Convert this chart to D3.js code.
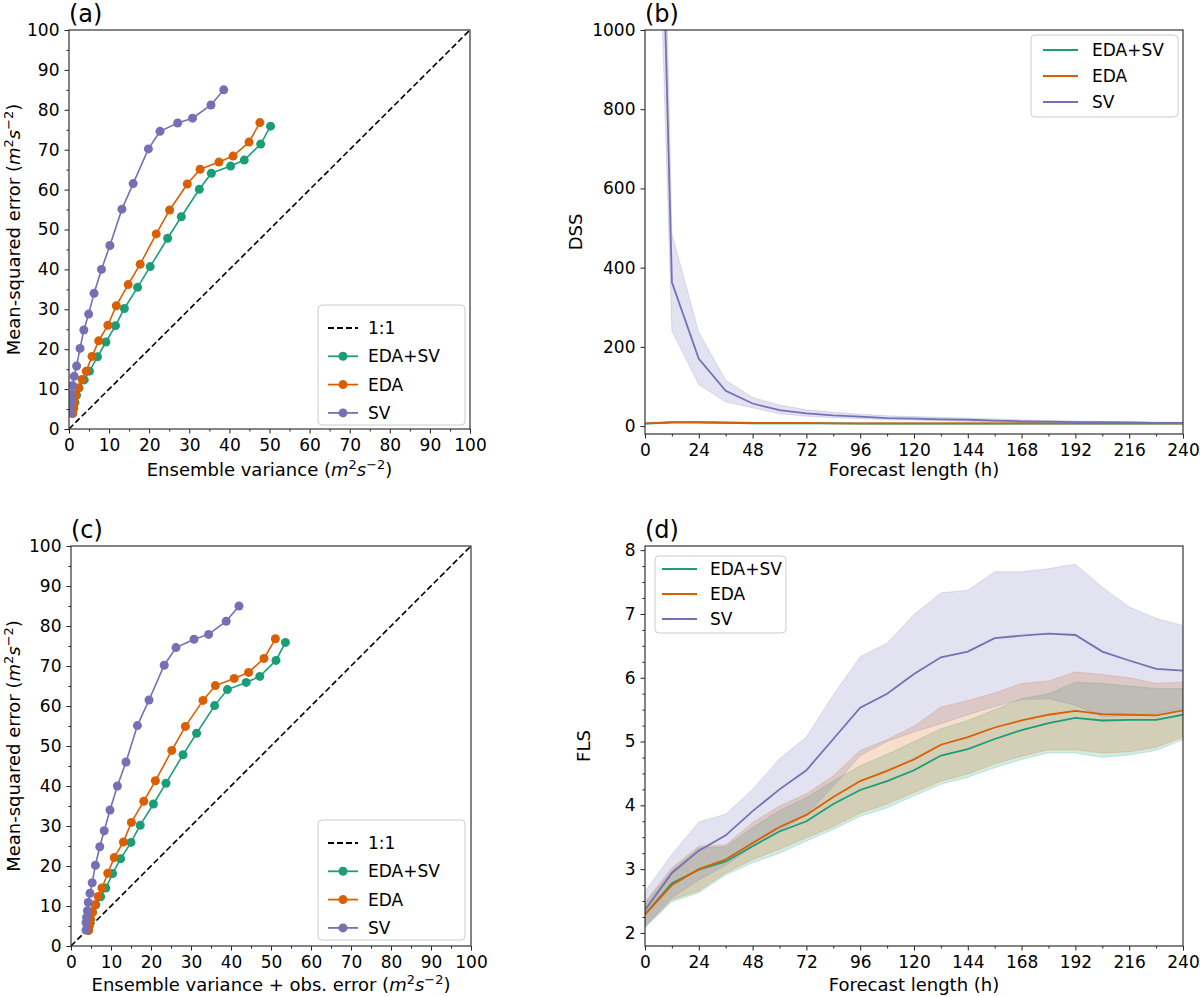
<html>
<head>
<meta charset="utf-8">
<script src="https://d3js.org/d3.v7.min.js"></script>
<style>
	body { margin: 0; background: #fff; }
	text { font-family: "DejaVu Sans", sans-serif; fill: #000; }
</style>
</head>
<body>
<svg id="fig" width="1200" height="997"></svg>
<script>

// forecast lead times (h)
var lead = [0, 12, 24, 36, 48, 60, 72, 84, 96, 108, 120, 132, 144, 156, 168, 180, 192, 204, 216, 228, 240];

// (a) / (c) mean-squared error against spread
var mseEDASV = [3.9, 5.2, 6.6, 8.5, 10.3, 12.3, 14.5, 18.1, 21.8, 25.9, 30.2, 35.5, 40.7, 47.8, 53.2, 60.1, 64.1, 65.9, 67.4, 71.4, 75.9];
var varEDASV = [0.9, 1.2, 1.5, 1.9, 2.5, 3.8, 5.1, 7.1, 9.2, 11.6, 13.8, 17.1, 20.25, 24.6, 28.0, 32.5, 35.5, 40.3, 43.7, 47.8, 50.25];
var obsEDASV = [4.3, 4.6, 4.9, 5.3, 6.2, 7.4, 8.7, 10.4, 12.4, 15.0, 17.3, 20.6, 23.75, 28.0, 31.4, 35.9, 39.1, 43.8, 47.2, 51.25, 53.6];

var mseEDA = [3.9, 5.2, 6.6, 8.4, 10.3, 12.4, 14.5, 18.2, 22.1, 26.0, 30.9, 36.2, 41.3, 48.9, 54.9, 61.4, 65.1, 66.9, 68.4, 71.9, 76.8];
var varEDA = [0.9, 1.1, 1.35, 1.7, 2.4, 3.25, 4.3, 5.75, 7.4, 9.7, 11.8, 14.75, 17.75, 21.75, 25.1, 29.5, 32.7, 37.4, 40.9, 44.9, 47.6];
var obsEDA = [4.4, 4.6, 4.9, 5.4, 6.0, 6.8, 7.75, 9.2, 10.8, 13.1, 15.1, 18.2, 21.1, 25.2, 28.6, 33.0, 36.1, 40.8, 44.4, 48.25, 51.1];

var mseSV = [4.0, 5.8, 7.2, 8.8, 10.9, 13.2, 15.8, 20.2, 24.8, 28.8, 34.0, 40.0, 46.0, 55.1, 61.5, 70.2, 74.6, 76.7, 77.9, 81.2, 85.0];
var varSV = [0.35, 0.35, 0.5, 0.7, 0.9, 1.3, 1.9, 2.75, 3.7, 4.9, 6.25, 8.1, 10.2, 13.2, 16.0, 19.8, 22.7, 27.1, 30.8, 35.4, 38.6];
var obsSV = [3.75, 3.75, 3.9, 4.1, 4.3, 4.75, 5.3, 6.1, 7.2, 8.3, 9.75, 11.6, 13.75, 16.6, 19.5, 23.3, 26.25, 30.75, 34.4, 38.8, 42.0];

// (b) DSS
var dssEDASV = [6, 9, 9, 8, 7, 7, 7, 7, 6, 6, 6, 6, 6, 6, 6, 6, 6, 6, 6, 6, 6];
var dssEDASVlo = [5, 8, 8, 7, 6, 6, 6, 6, 5, 5, 5, 5, 5, 5, 5, 5, 5, 5, 5, 5, 5];
var dssEDASVhi = [7, 10, 10, 9, 8, 8, 8, 8, 7, 7, 7, 7, 7, 7, 7, 7, 7, 7, 7, 7, 7];
var dssEDA = [7, 10, 10, 9, 8, 8, 8, 7, 7, 7, 7, 7, 7, 7, 7, 7, 7, 7, 7, 7, 7];
var dssEDAlo = [6, 9, 9, 8, 7, 7, 7, 6, 6, 6, 6, 6, 6, 6, 6, 6, 6, 6, 6, 6, 6];
var dssEDAhi = [8, 11, 11, 10, 9, 9, 9, 8, 8, 8, 8, 8, 8, 8, 8, 8, 8, 8, 8, 8, 8];
var dssSV = [3000, 363, 170, 89, 57, 40, 32, 27, 24, 20, 19, 17, 16, 14, 12, 11, 10, 10, 9, 8, 8];
var dssSVlo = [2400, 240, 105, 61, 46, 31, 25, 21, 19, 16, 15, 13, 12, 11, 9, 8, 8, 7, 7, 6, 6];
var dssSVhi = [3600, 485, 236, 116, 72, 53, 41, 35, 30, 26, 24, 22, 20, 18, 16, 14, 13, 12, 11, 10, 10];

// (d) FLS
var flsEDASV = [2.29, 2.78, 2.99, 3.12, 3.36, 3.59, 3.75, 4.02, 4.24, 4.38, 4.55, 4.78, 4.88, 5.04, 5.18, 5.29, 5.37, 5.33, 5.34, 5.34, 5.42];
var flsEDASVlo = [2.08, 2.49, 2.63, 2.91, 3.1, 3.25, 3.44, 3.62, 3.83, 3.96, 4.15, 4.33, 4.44, 4.59, 4.72, 4.82, 4.82, 4.75, 4.79, 4.86, 5.03];
var flsEDASVhi = [2.45, 2.98, 3.33, 3.35, 3.65, 3.92, 4.12, 4.38, 4.62, 4.8, 5.0, 5.2, 5.33, 5.5, 5.67, 5.75, 5.93, 5.91, 5.87, 5.83, 5.83];
var flsEDA = [2.29, 2.75, 3.0, 3.15, 3.41, 3.66, 3.85, 4.13, 4.38, 4.54, 4.72, 4.95, 5.07, 5.22, 5.33, 5.42, 5.48, 5.43, 5.42, 5.41, 5.49];
var flsEDAlo = [2.1, 2.52, 2.66, 2.94, 3.15, 3.31, 3.49, 3.67, 3.88, 4.02, 4.2, 4.38, 4.49, 4.65, 4.77, 4.87, 4.87, 4.82, 4.84, 4.91, 5.07];
var flsEDAhi = [2.49, 3.02, 3.36, 3.38, 3.73, 3.99, 4.18, 4.46, 4.86, 5.03, 5.24, 5.54, 5.64, 5.76, 5.91, 5.95, 6.09, 6.05, 6.0, 5.91, 5.93];
var flsSV = [2.36, 2.94, 3.29, 3.53, 3.91, 4.25, 4.55, 5.04, 5.53, 5.75, 6.06, 6.32, 6.41, 6.62, 6.66, 6.69, 6.67, 6.41, 6.27, 6.14, 6.11];
var flsSVlo = [2.1, 2.55, 2.83, 3.06, 3.35, 3.6, 3.85, 4.3, 4.78, 5.0, 5.15, 5.28, 5.42, 5.55, 5.66, 5.67, 5.57, 5.39, 5.41, 5.44, 5.52];
var flsSVhi = [2.65, 3.23, 3.74, 3.86, 4.25, 4.73, 5.07, 5.73, 6.33, 6.54, 6.99, 7.33, 7.37, 7.66, 7.66, 7.71, 7.78, 7.42, 7.11, 6.93, 6.82];

// tick values
var pctTicks = d3.range(0, 101, 10);
var pctMinor = d3.range(5, 100, 10);
var leadTicks = d3.range(0, 241, 24);
var leadMinor = d3.range(12, 240, 24);
var dssTicks = [0, 200, 400, 600, 800, 1000];
var flsTicks = [2, 3, 4, 5, 6, 7, 8];
var flsMinor = [2.25, 2.5, 2.75, 3.25, 3.5, 3.75, 4.25, 4.5, 4.75, 5.25, 5.5, 5.75, 6.25, 6.5, 6.75, 7.25, 7.5, 7.75];

var cGreen = "#1b9e77", cOrange = "#d95f02", cPurple = "#7570b3";
var fs = 17;      // tick + legend text
var fsLab = 18;   // axis titles
var svg = d3.select("#fig");
var clipCount = 0;

function panel(box, xDom, yDom, xT, xM, yT, yM, tag) {
	var x = d3.scaleLinear().domain(xDom).range([box.l, box.r]);
	var y = d3.scaleLinear().domain(yDom).range([box.b, box.t]);
	var id = "clip" + (clipCount++);
	svg.append("clipPath").attr("id", id)
		.append("rect")
		.attr("x", box.l).attr("y", box.t)
		.attr("width", box.r - box.l).attr("height", box.b - box.t);
	var data = svg.append("g").attr("clip-path", "url(#" + id + ")");
	var ax = svg.append("g");
	// minor ticks
	if (xM) ax.append("g").attr("transform", "translate(0," + box.b + ")")
		.call(d3.axisBottom(x).tickValues(xM).tickSize(2.5).tickFormat(""));
	if (yM) ax.append("g").attr("transform", "translate(" + box.l + ",0)")
		.call(d3.axisLeft(y).tickValues(yM).tickSize(2.5).tickFormat(""));
	// major ticks
	ax.append("g").attr("transform", "translate(0," + box.b + ")")
		.call(d3.axisBottom(x).tickValues(xT).tickSize(4.5).tickPadding(5).tickFormat(d3.format("d")));
	ax.append("g").attr("transform", "translate(" + box.l + ",0)")
		.call(d3.axisLeft(y).tickValues(yT).tickSize(4.5).tickPadding(5).tickFormat(d3.format("d")));
	ax.selectAll(".domain").remove();
	ax.selectAll(".tick line").attr("stroke", "#222").attr("stroke-width", 1);
	ax.selectAll(".tick text").style("font-size", fs + "px").style("font-family", "DejaVu Sans").attr("fill", "#000");
	ax.append("rect")
		.attr("x", box.l).attr("y", box.t)
		.attr("width", box.r - box.l).attr("height", box.b - box.t)
		.attr("fill", "none").attr("stroke", "#333").attr("stroke-width", 1.2);
	svg.append("text")
		.attr("x", box.l).attr("y", box.t - 8)
		.style("font-size", "24px")
		.text(tag);
	return { x: x, y: y, g: data };
}

function unitLabel(t, prefix) {
	t.append("tspan").text(prefix + " (");
	t.append("tspan").style("font-style", "italic").text("m");
	t.append("tspan").attr("baseline-shift", "super").style("font-size", "72%").text("2");
	t.append("tspan").style("font-style", "italic").text("s");
	t.append("tspan").attr("baseline-shift", "super").style("font-size", "72%").text("\u22122");
	t.append("tspan").text(")");
}

function xLabel(box, yPos, f) {
	var t = svg.append("text")
		.attr("x", (box.l + box.r) / 2).attr("y", yPos)
		.style("text-anchor", "middle").style("font-size", fsLab + "px");
	f(t);
}

function yLabel(box, xPos, f) {
	var t = svg.append("text")
		.attr("transform", "translate(" + xPos + "," + (box.t + box.b) / 2 + ") rotate(-90)")
		.style("text-anchor", "middle").style("font-size", fsLab + "px");
	f(t);
}

function legend(bx, items) {
	var g = svg.append("g");
	g.append("rect")
		.attr("x", bx.l).attr("y", bx.t)
		.attr("width", bx.r - bx.l).attr("height", bx.b - bx.t)
		.attr("rx", 4)
		.attr("fill", "#fff").attr("fill-opacity", 0.8)
		.attr("stroke", "#ccc").attr("stroke-width", 1);
	items.forEach(function (it, i) {
		var yy = bx.y0 + i * bx.dy;
		g.append("line")
			.attr("x1", bx.lx1).attr("x2", bx.lx2)
			.attr("y1", yy).attr("y2", yy)
			.attr("stroke", it.color).attr("stroke-width", 1.8)
			.attr("stroke-dasharray", it.dash ? "6,3" : null);
		if (it.marker) g.append("circle")
			.attr("cx", (bx.lx1 + bx.lx2) / 2).attr("cy", yy).attr("r", 4.5)
			.attr("fill", it.color);
		g.append("text")
			.attr("x", bx.tx).attr("y", yy).attr("dy", "0.36em")
			.style("font-size", fs + "px")
			.text(it.label);
	});
}

function scatterPanel(p, xs) {
	p.g.append("line")
		.attr("x1", p.x(0)).attr("y1", p.y(0))
		.attr("x2", p.x(100)).attr("y2", p.y(100))
		.attr("stroke", "#000").attr("stroke-width", 1.6)
		.attr("stroke-dasharray", "6,3");
	var series = [
		{ xv: xs[0], yv: mseEDASV, c: cGreen },
		{ xv: xs[1], yv: mseEDA, c: cOrange },
		{ xv: xs[2], yv: mseSV, c: cPurple }
	];
	series.forEach(function (s) {
		var pts = s.xv.map(function (v, i) { return [v, s.yv[i]]; });
		p.g.append("path")
			.attr("d", d3.line().x(function (d) { return p.x(d[0]); }).y(function (d) { return p.y(d[1]); })(pts))
			.attr("fill", "none").attr("stroke", s.c).attr("stroke-width", 1.6);
		p.g.selectAll(null).data(pts).enter().append("circle")
			.attr("cx", function (d) { return p.x(d[0]); })
			.attr("cy", function (d) { return p.y(d[1]); })
			.attr("r", 4.5)
			.attr("fill", s.c);
	});
}

function leadPanel(p, sets) {
	sets.forEach(function (s) {
		var area = d3.area()
			.x(function (d, i) { return p.x(lead[i]); })
			.y0(function (d, i) { return p.y(s.lo[i]); })
			.y1(function (d, i) { return p.y(s.hi[i]); });
		p.g.append("path").attr("d", area(s.mid))
			.attr("fill", s.c).attr("fill-opacity", 0.2)
			.attr("stroke", s.c).attr("stroke-opacity", 0.2).attr("stroke-width", 1);
	});
	sets.forEach(function (s) {
		var line = d3.line()
			.x(function (d, i) { return p.x(lead[i]); })
			.y(function (d) { return p.y(d); });
		p.g.append("path").attr("d", line(s.mid))
			.attr("fill", "none").attr("stroke", s.c).attr("stroke-width", 1.8);
	});
}

// (a)
var boxA = { l: 69, r: 470, t: 30, b: 429 };
var pA = panel(boxA, [0, 100], [0, 100], pctTicks, pctMinor, pctTicks, pctMinor, "(a)");
scatterPanel(pA, [varEDASV, varEDA, varSV]);
xLabel(boxA, 476, function (t) { unitLabel(t, "Ensemble variance"); });
yLabel(boxA, 20, function (t) { unitLabel(t, "Mean-squared error"); });
legend({ l: 318, r: 465, t: 305, b: 425, y0: 328, dy: 28.3, lx1: 328, lx2: 358, tx: 368 }, [
	{ label: "1:1", color: "#000", dash: true },
	{ label: "EDA+SV", color: cGreen, marker: true },
	{ label: "EDA", color: cOrange, marker: true },
	{ label: "SV", color: cPurple, marker: true }
]);

// (c)
var boxC = { l: 71, r: 471, t: 546, b: 946 };
var pC = panel(boxC, [0, 100], [0, 100], pctTicks, pctMinor, pctTicks, pctMinor, "(c)");
scatterPanel(pC, [obsEDASV, obsEDA, obsSV]);
xLabel(boxC, 991, function (t) { unitLabel(t, "Ensemble variance + obs. error"); });
yLabel(boxC, 20, function (t) { unitLabel(t, "Mean-squared error"); });
legend({ l: 318, r: 465, t: 820, b: 940, y0: 843, dy: 28.3, lx1: 328, lx2: 358, tx: 368 }, [
	{ label: "1:1", color: "#000", dash: true },
	{ label: "EDA+SV", color: cGreen, marker: true },
	{ label: "EDA", color: cOrange, marker: true },
	{ label: "SV", color: cPurple, marker: true }
]);

// (b)
var boxB = { l: 645, r: 1183, t: 30, b: 434 };
var pB = panel(boxB, [0, 240], [-20, 1000], leadTicks, leadMinor, dssTicks, null, "(b)");
leadPanel(pB, [
	{ mid: dssEDASV, lo: dssEDASVlo, hi: dssEDASVhi, c: cGreen },
	{ mid: dssEDA, lo: dssEDAlo, hi: dssEDAhi, c: cOrange },
	{ mid: dssSV, lo: dssSVlo, hi: dssSVhi, c: cPurple }
]);
xLabel(boxB, 476, function (t) { t.text("Forecast length (h)"); });
yLabel(boxB, 582, function (t) { t.text("DSS"); });
legend({ l: 1031, r: 1178, t: 35, b: 117, y0: 50, dy: 26, lx1: 1043, lx2: 1078, tx: 1092 }, [
	{ label: "EDA+SV", color: cGreen },
	{ label: "EDA", color: cOrange },
	{ label: "SV", color: cPurple }
]);

// (d)
var boxD = { l: 645, r: 1183, t: 546, b: 946 };
var pD = panel(boxD, [0, 240], [1.795, 8.065], leadTicks, leadMinor, flsTicks, flsMinor, "(d)");
leadPanel(pD, [
	{ mid: flsEDASV, lo: flsEDASVlo, hi: flsEDASVhi, c: cGreen },
	{ mid: flsEDA, lo: flsEDAlo, hi: flsEDAhi, c: cOrange },
	{ mid: flsSV, lo: flsSVlo, hi: flsSVhi, c: cPurple }
]);
xLabel(boxD, 991, function (t) { t.text("Forecast length (h)"); });
yLabel(boxD, 590, function (t) { t.text("FLS"); });
legend({ l: 655, r: 786, t: 556, b: 633, y0: 569, dy: 25, lx1: 662, lx2: 697, tx: 710 }, [
	{ label: "EDA+SV", color: cGreen },
	{ label: "EDA", color: cOrange },
	{ label: "SV", color: cPurple }
]);

</script>
</body>
</html>
